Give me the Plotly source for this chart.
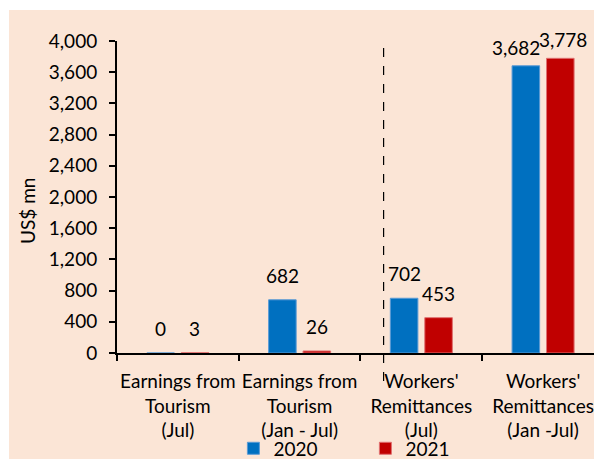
import plotly.graph_objects as go

categories = ["Earnings from<br>Tourism<br>(Jul)",
              "Earnings from<br>Tourism<br>(Jan - Jul)",
              "Workers'<br>Remittances<br>(Jul)",
              "Workers'<br>Remittances<br>(Jan -Jul)"]
values_2020 = [0, 682, 702, 3682]
values_2021 = [3, 26, 453, 3778]
series_names = ["2020", "2021"]
y_ticks = list(range(0, 4001, 400))
y_title = "US$ mn"

BLUE = "#0070C0"
RED = "#C00000"
PEACH = "#FBE5D6"
FONT = "Lato"
FS = 19

fig = go.Figure()
fig.add_trace(go.Bar(x=categories, y=values_2020, name=series_names[0],
                     marker=dict(color=BLUE, line=dict(color="#5B9BD5", width=1))))
fig.add_trace(go.Bar(x=categories, y=values_2021, name=series_names[1],
                     marker=dict(color=RED, line=dict(color="#E07070", width=1))))

# data labels
extra = {(3, 0): (-10, -6), (3, 1): (3, -6)}
annotations = []
for si, vals in enumerate([values_2020, values_2021]):
    for ci, v in enumerate(vals):
        dx, dy = extra.get((ci, si), (0, 0))
        annotations.append(dict(x=categories[ci], y=v, xref="x", yref="y",
                                text=f"{v:,}", showarrow=False,
                                xshift=(-17 if si == 0 else 17) + dx,
                                yshift=11 + dy, yanchor="bottom",
                                font=dict(family=FONT, size=FS, color="black")))
# y axis title (placed slightly below centre, as in the original)
annotations.append(dict(text=y_title, xref="paper", yref="paper", x=-0.1856, y=0.455,
                        xanchor="center", yanchor="middle", textangle=-90, showarrow=False,
                        font=dict(family=FONT, size=FS, color="black")))

fig.update_layout(
    width=594, height=451,
    margin=dict(l=109, r=0, t=33, b=106, autoexpand=False),
    paper_bgcolor="white",
    plot_bgcolor="rgba(0,0,0,0)",
    font=dict(family=FONT, size=FS, color="black"),
    barmode="group", bargap=0.434, bargroupgap=0.2,
    showlegend=True,
    legend=dict(orientation="h", x=0.24, xanchor="left", y=-0.245, yanchor="top",
                entrywidth=87, entrywidthmode="pixels",
                bgcolor="rgba(0,0,0,0)", font=dict(family=FONT, size=FS),
                itemwidth=30, tracegroupgap=0),
    annotations=annotations,
    shapes=[
        dict(type="rect", xref="paper", yref="paper", x0=-0.2227, x1=1.01,
             y0=-0.345, y1=1.0994, fillcolor=PEACH, line=dict(width=0), layer="below"),
        dict(type="line", xref="x", yref="paper", x0=1.69, x1=1.69,
             y0=-0.09, y1=0.987, line=dict(color="black", width=1.2, dash="dash")),
    ],
)
fig.update_xaxes(type="category", range=[-0.5, 3.484], showline=True, linecolor="black",
                 linewidth=2, ticks="outside", tickson="boundaries", ticklen=6,
                 tickcolor="black", tickwidth=2, showgrid=False, automargin=False,
                 ticklabelstandoff=10, tickangle=0,
                 tickfont=dict(family=FONT, size=FS))
fig.update_yaxes(range=[0, 4000], tickvals=y_ticks, tickformat=",d", showline=True,
                 linecolor="black", linewidth=2, ticks="outside", ticklen=6,
                 tickcolor="black", tickwidth=2, showgrid=False, zeroline=False,
                 automargin=False, ticklabelstandoff=8,
                 tickfont=dict(family=FONT, size=FS))

fig.write_html("out.html")
